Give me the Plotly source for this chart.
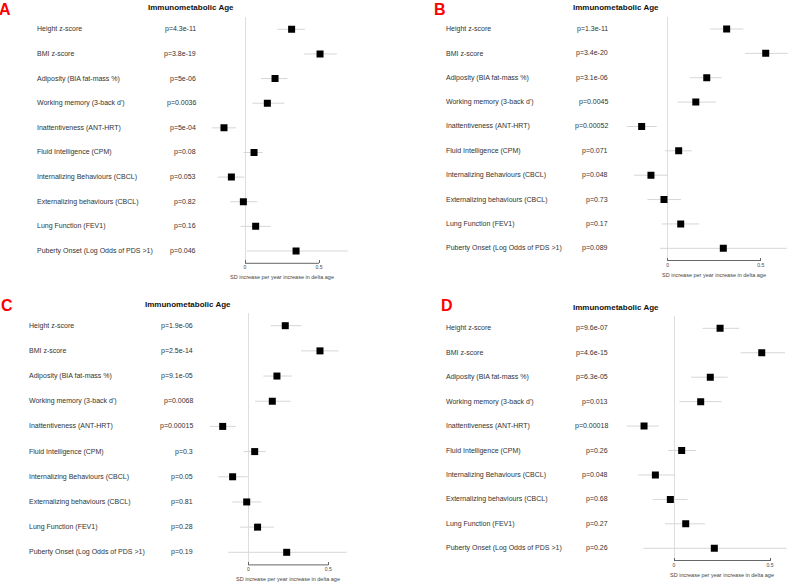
import plotly.graph_objects as go

W, H = 789, 584

labels = ["Height z-score", "BMI z-score", "Adiposity (BIA fat-mass %)",
          "Working memory (3-back d')", "Inattentiveness (ANT-HRT)",
          "Fluid Intelligence (CPM)", "Internalizing Behaviours (CBCL)",
          "Externalizing behaviours (CBCL)", "Lung Function (FEV1)",
          "Puberty Onset (Log Odds of PDS >1)"]

panel_letters = ["A", "B", "C", "D"]
panel_title = "Immunometabolic Age"
x_title = "SD increase per year increase in delta age"
tick_vals = [0, 0.5]
tick_text = ["0", "0.5"]

pvals_A = ["p=4.3e-11", "p=3.8e-19", "p=5e-06", "p=0.0036", "p=5e-04",
           "p=0.08", "p=0.053", "p=0.82", "p=0.16", "p=0.046"]
est_A = [0.315, 0.507, 0.203, 0.151, -0.142, 0.061, -0.092, -0.011, 0.072, 0.345]
lo_A = [0.220, 0.400, 0.108, 0.050, -0.225, -0.011, -0.184, -0.100, -0.029, 0.011]
hi_A = [0.405, 0.620, 0.286, 0.266, -0.061, 0.120, -0.004, 0.083, 0.174, 0.694]

pvals_B = ["p=1.3e-11", "p=3.4e-20", "p=3.1e-06", "p=0.0045", "p=0.00052",
           "p=0.071", "p=0.048", "p=0.73", "p=0.17", "p=0.089"]
est_B = [0.317, 0.527, 0.210, 0.151, -0.140, 0.059, -0.090, -0.020, 0.070, 0.299]
lo_B = [0.228, 0.416, 0.120, 0.054, -0.220, -0.014, -0.181, -0.109, -0.032, -0.041]
hi_B = [0.407, 0.645, 0.290, 0.260, -0.059, 0.129, 0.000, 0.072, 0.170, 0.640]

pvals_C = ["p=1.9e-06", "p=2.5e-14", "p=9.1e-05", "p=0.0068", "p=0.00015",
           "p=0.3", "p=0.05", "p=0.81", "p=0.28", "p=0.19"]
est_C = [0.231, 0.448, 0.179, 0.150, -0.160, 0.040, -0.098, -0.010, 0.058, 0.240]
lo_C = [0.140, 0.329, 0.094, 0.042, -0.240, -0.031, -0.188, -0.100, -0.052, -0.125]
hi_C = [0.333, 0.563, 0.273, 0.265, -0.079, 0.110, -0.004, 0.083, 0.160, 0.615]

pvals_D = ["p=9.6e-07", "p=4.6e-15", "p=6.3e-05", "p=0.013", "p=0.00018",
           "p=0.26", "p=0.048", "p=0.68", "p=0.27", "p=0.26"]
est_D = [0.240, 0.457, 0.189, 0.139, -0.156, 0.040, -0.097, -0.019, 0.061, 0.210]
lo_D = [0.148, 0.347, 0.089, 0.028, -0.247, -0.030, -0.186, -0.111, -0.047, -0.160]
hi_D = [0.339, 0.578, 0.280, 0.248, -0.078, 0.113, 0.005, 0.071, 0.161, 0.587]

panels = [
    (pvals_A, est_A, lo_A, hi_A),
    (pvals_B, est_B, lo_B, hi_B),
    (pvals_C, est_C, lo_C, hi_C),
    (pvals_D, est_D, lo_D, hi_D),
]

# layout geometry in pixels for each panel
geo = [
    dict(xd=(200, 390), zero=245.0, scale=148.0, ytop=17.0, ybot=263.3,
         lab_x=35, p_x=198, title=(191, 7.5), letter=(5, 9)),
    dict(xd=(625, 789), zero=667.7, scale=186.0, ytop=16.8, ybot=260.5,
         lab_x=444, p_x=610, title=(615.5, 7.5), letter=(440, 10)),
    dict(xd=(200, 390), zero=248.3, scale=160.0, ytop=313.1, ybot=564.9,
         lab_x=27, p_x=195, title=(187.5, 304), letter=(7, 305)),
    dict(xd=(625, 789), zero=674.0, scale=192.0, ytop=316.1, ybot=560.5,
         lab_x=444, p_x=610, title=(615.5, 307.3), letter=(447, 305.5)),
]

FONT = "Liberation Sans, Arial, sans-serif"
fig = go.Figure()
annotations = []
shapes = []
layout = {}

for k, ((pv, est, lo, hi), g) in enumerate(zip(panels, geo), start=1):
    xa = "x" if k == 1 else f"x{k}"
    ya = "y" if k == 1 else f"y{k}"
    rows = list(range(len(labels)))
    fig.add_trace(go.Scatter(
        x=est, y=rows, xaxis=xa, yaxis=ya, mode="markers",
        marker=dict(symbol="square", size=7, color="black"),
        error_x=dict(type="data", symmetric=False,
                     array=[h - e for h, e in zip(hi, est)],
                     arrayminus=[e - l for e, l in zip(est, lo)],
                     color="#d6d6d6", thickness=1, width=0),
        hoverinfo="skip", showlegend=False))
    x0, x1 = g["xd"]
    rng = [(x0 - g["zero"]) / g["scale"], (x1 - g["zero"]) / g["scale"]]
    layout["xaxis" if k == 1 else f"xaxis{k}"] = dict(
        domain=[x0 / W, x1 / W], range=rng, anchor=ya,
        showgrid=False, zeroline=True, zerolinecolor="#dedede", zerolinewidth=1,
        showline=False, tickvals=tick_vals, ticktext=tick_text,
        ticks="inside", ticklen=3, tickcolor="#666", tickwidth=1,
        tickfont=dict(size=5, color="#444", family=FONT))
    layout["yaxis" if k == 1 else f"yaxis{k}"] = dict(
        domain=[1 - g["ybot"] / H, 1 - g["ytop"] / H],
        range=[len(labels) - 0.5, -0.5], anchor=xa,
        showgrid=False, zeroline=False, showticklabels=False, ticks="")
    # axis line spanning tick range
    shapes.append(dict(type="line", xref=xa, yref=f"{ya} domain",
                       x0=min(tick_vals), x1=max(tick_vals), y0=0, y1=0,
                       line=dict(color="#666", width=1)))
    # axis title
    annotations.append(dict(text=x_title, xref=xa, x=sum(tick_vals) / 2,
                            yref=f"{ya} domain", y=0, yanchor="top", yshift=-9,
                            showarrow=False,
                            font=dict(size=5.5, color="#444", family=FONT)))
    # labels and p-values
    for i, (lab, p) in enumerate(zip(labels, pv)):
        annotations.append(dict(text=lab, xref="paper", x=g["lab_x"] / W,
                                xanchor="left", yref=ya, y=i, showarrow=False,
                                font=dict(size=7, color="#333", family=FONT)))
        annotations.append(dict(text=p, xref="paper", x=g["p_x"] / W,
                                xanchor="right", yref=ya, y=i, showarrow=False,
                                font=dict(size=7, color="#333", family=FONT)))
    tx, ty = g["title"]
    annotations.append(dict(text=f"<b>{panel_title}</b>", xref="paper", x=tx / W,
                            yref="paper", y=1 - ty / H, xanchor="center",
                            yanchor="middle", showarrow=False,
                            font=dict(size=8, color="#111", family=FONT)))
    lx, ly = g["letter"]
    annotations.append(dict(text=f"<b>{panel_letters[k-1]}</b>", xref="paper",
                            x=lx / W, yref="paper", y=1 - ly / H,
                            xanchor="center", yanchor="middle", showarrow=False,
                            font=dict(size=16, color="#ff0000", family=FONT)))

fig.update_layout(width=W, height=H, margin=dict(l=0, r=0, t=0, b=0),
                  plot_bgcolor="white", paper_bgcolor="white",
                  annotations=annotations, shapes=shapes, showlegend=False,
                  **layout)

fig.write_html("out.html", config={"displayModeBar": False},
               post_script="document.body.style.margin='0px';"
                           "document.body.style.overflow='hidden';")
